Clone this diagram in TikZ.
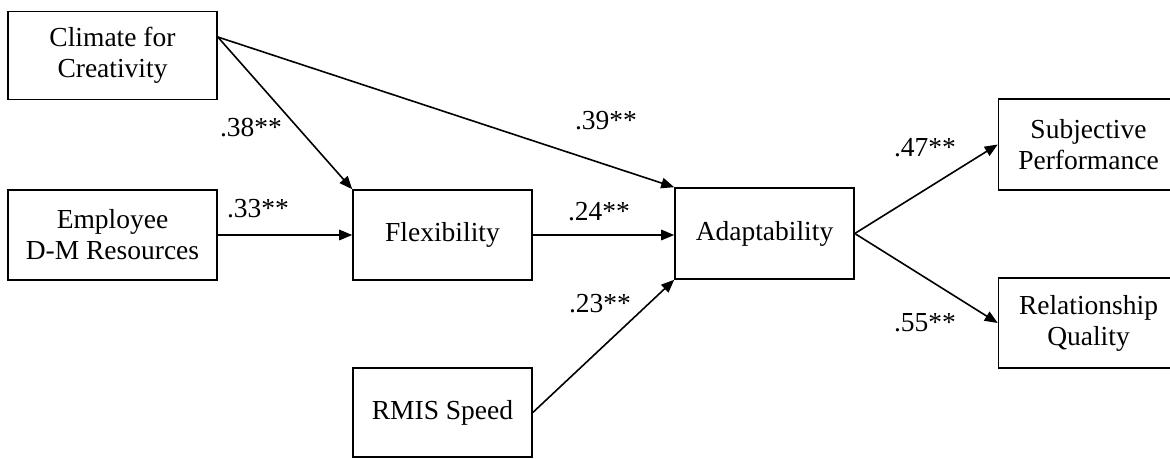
\documentclass[tikz,border=0pt]{standalone}
\usepackage{fontspec}
\setmainfont{Liberation Serif}
\usetikzlibrary{arrows.meta,calc}
\begin{document}
\begin{tikzpicture}[x=1pt,y=-1pt,
  every node/.style={font=\fontsize{27.5}{31}\selectfont},
  box/.style={draw,line width=1.6pt,rectangle,align=center,inner sep=0pt},
  lbl/.style={inner sep=0pt},
  arr/.style={line width=1.6pt,-{Triangle[length=13pt,width=10.5pt]}}]
\useasboundingbox (0,0) rectangle (1170,458);
\node[box,minimum width=209pt,minimum height=88pt] (clim) at (112.5,55.5) {Climate for\\Creativity};
\node[box,minimum width=209pt,minimum height=90pt] (emp) at (112.5,235) {Employee\\D-M Resources};
\node[box,minimum width=179pt,minimum height=90pt] (flex) at (442.5,235) {Flexibility};
\node[box,minimum width=179pt,minimum height=91pt] (adapt) at (764.5,233.5) {Adaptability};
\node[box,minimum width=179pt,minimum height=89pt] (rmis) at (442.5,412.5) {RMIS Speed};
\node[box,minimum width=180pt,minimum height=91pt] (subj) at (1088.5,144.5) {Subjective\\Performance};
\node[box,minimum width=180pt,minimum height=90pt] (rel) at (1088.5,323) {Relationship\\Quality};
\coordinate (cs) at ($(clim.east)+(0,-18.5)$);
\draw[arr] (cs) -- (flex.north west);
\draw[arr] (cs) -- (adapt.north west);
\draw[arr] (emp.east) -- (flex.west);
\draw[arr] (flex.east) -- (flex.east -| adapt.west);
\draw[arr] (rmis.east) -- (adapt.south west);
\draw[arr] (adapt.east) -- (subj.west);
\draw[arr] (adapt.east) -- (rel.west);
\node[lbl] (l38) at (251,128) {.38**};
\node[lbl] (l33) at (258,209) {.33**};
\node[lbl] (l39) at (606,121) {.39**};
\node[lbl] (l24) at (599,212) {.24**};
\node[lbl] (l23) at (600,304) {.23**};
\node[lbl] (l47) at (925,148) {.47**};
\node[lbl] (l55) at (925,323) {.55**};
\end{tikzpicture}
\end{document}
